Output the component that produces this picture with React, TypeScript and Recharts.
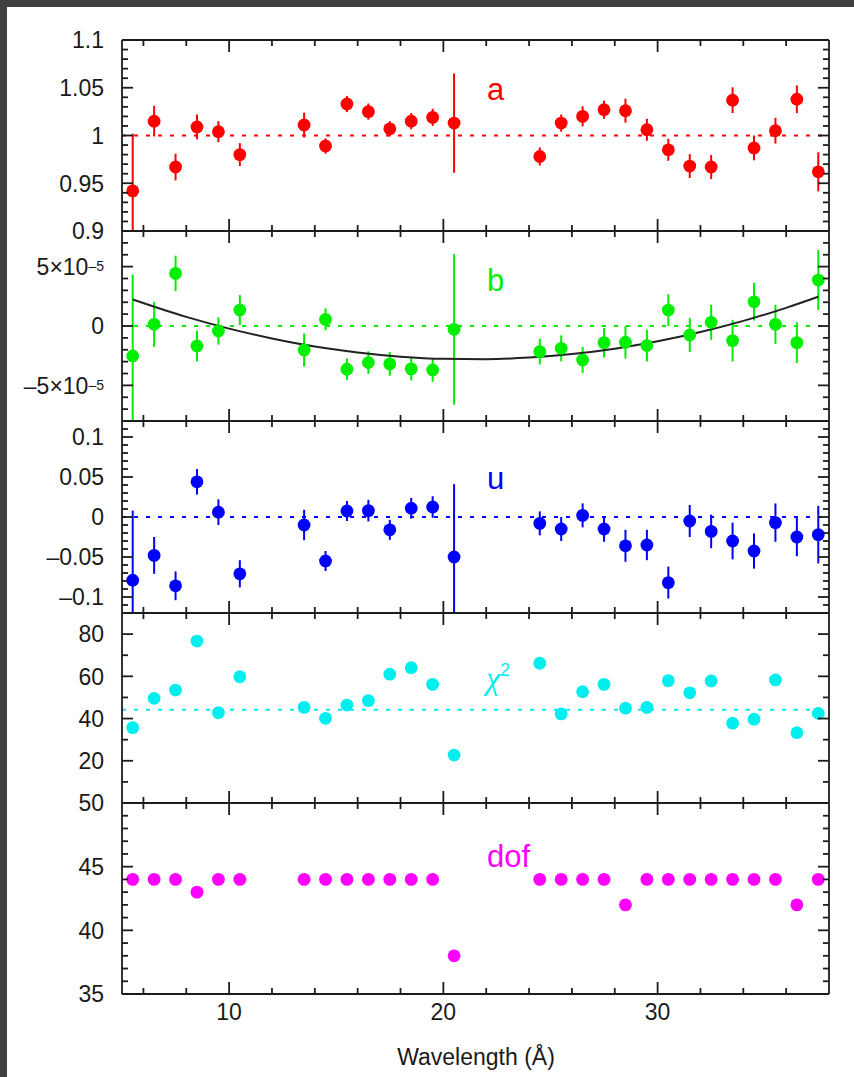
import React from 'react';
import { ComposedChart, Scatter, Line, XAxis, YAxis, ErrorBar, ReferenceLine } from 'recharts';

// ---------- data ----------
const wavelength = [5.5, 6.5, 7.5, 8.5, 9.5, 10.5, 13.5, 14.5, 15.5, 16.5, 17.5, 18.5, 19.5, 20.5, 24.5, 25.5, 26.5, 27.5, 28.5, 29.5, 30.5, 31.5, 32.5, 33.5, 34.5, 35.5, 36.5, 37.5];

// error entries: number = symmetric, [below, above] = bar cut by the panel frame
const aValues = [0.942, 1.015, 0.967, 1.009, 1.004, 0.980, 1.011, 0.989, 1.033, 1.025, 1.007, 1.015, 1.019, 1.013, 0.978, 1.013, 1.020, 1.027, 1.026, 1.006, 0.985, 0.968, 0.967, 1.037, 0.987, 1.005, 1.038, 0.962];
const aErrors: (number | number[])[] = [[0.042, 0.06], 0.016, 0.014, 0.013, 0.011, 0.012, 0.013, 0.008, 0.0085, 0.0085, 0.008, 0.0085, 0.009, 0.052, 0.0095, 0.009, 0.0105, 0.0095, 0.0125, 0.0115, 0.0115, 0.0125, 0.0125, 0.0135, 0.013, 0.0135, 0.0145, 0.0205];

const bValues = [-2.52e-5, 0.14e-5, 4.43e-5, -1.68e-5, -0.42e-5, 1.34e-5, -2.02e-5, 0.56e-5, -3.64e-5, -3.08e-5, -3.19e-5, -3.61e-5, -3.70e-5, -0.28e-5, -2.16e-5, -1.88e-5, -2.86e-5, -1.40e-5, -1.37e-5, -1.65e-5, 1.34e-5, -0.76e-5, 0.31e-5, -1.23e-5, 2.04e-5, 0.14e-5, -1.40e-5, 3.87e-5];
const bErrors: (number | number[])[] = [[5.48e-5, 6.86e-5], 1.9e-5, 1.49e-5, 1.3e-5, 1.15e-5, 1.26e-5, 1.4e-5, 0.92e-5, 0.91e-5, 0.95e-5, 1.0e-5, 0.98e-5, 1.0e-5, 6.34e-5, 1.08e-5, 1.09e-5, 1.09e-5, 1.25e-5, 1.37e-5, 1.33e-5, 1.34e-5, 1.43e-5, 1.47e-5, 1.75e-5, 1.58e-5, 1.65e-5, 1.72e-5, 2.52e-5];

const fitWavelength = [5.5, 8, 10, 12, 14, 16, 18, 20, 22, 24, 26, 28, 30, 32, 34, 36, 37.5];
const fitB = [2.24e-5, 0.77e-5, -0.22e-5, -1.05e-5, -1.73e-5, -2.23e-5, -2.58e-5, -2.76e-5, -2.79e-5, -2.66e-5, -2.36e-5, -1.91e-5, -1.29e-5, -0.51e-5, 0.43e-5, 1.53e-5, 2.46e-5];

const uValues = [-0.079, -0.048, -0.086, 0.044, 0.006, -0.071, -0.010, -0.055, 0.0075, 0.008, -0.016, 0.011, 0.0125, -0.050, -0.008, -0.015, 0.002, -0.015, -0.036, -0.035, -0.082, -0.005, -0.018, -0.030, -0.0425, -0.007, -0.025, -0.022];
const uErrors: (number | number[])[] = [[0.041, 0.087], 0.023, 0.018, 0.016, 0.016, 0.017, 0.019, 0.0125, 0.0125, 0.0135, 0.0125, 0.013, 0.0135, [0.07, 0.091], 0.015, 0.015, 0.015, 0.016, 0.02, 0.019, 0.02, 0.02, 0.021, 0.023, 0.022, 0.024, 0.024, 0.036];

const chiValues = [35.7, 49.6, 53.5, 76.7, 42.8, 59.8, 45.3, 40.1, 46.4, 48.5, 61.0, 64.1, 56.2, 22.7, 66.2, 42.2, 52.7, 56.2, 44.9, 45.3, 57.9, 52.2, 57.8, 37.8, 39.7, 58.3, 33.3, 42.5];
const chiReference = 44.2;

const dofValues = [44, 44, 44, 43, 44, 44, 44, 44, 44, 44, 44, 44, 44, 38, 44, 44, 44, 44, 42, 44, 44, 44, 44, 44, 44, 44, 42, 44];

// ---------- ticks ----------
const xDomain = [5, 38];
const xMajorTicks = [10, 20, 30];
const xAllTicks = [6, 8, 10, 12, 14, 16, 18, 20, 22, 24, 26, 28, 30, 32, 34, 36];

const aMajor = [0.9, 0.95, 1, 1.05, 1.1];
const aMinor = [0.91, 0.92, 0.93, 0.94, 0.96, 0.97, 0.98, 0.99, 1.01, 1.02, 1.03, 1.04, 1.06, 1.07, 1.08, 1.09];
const bMajor = [-5e-5, 0, 5e-5];
const bMinor = [-7e-5, -6e-5, -4e-5, -3e-5, -2e-5, -1e-5, 1e-5, 2e-5, 3e-5, 4e-5, 6e-5, 7e-5];
const uMajor = [-0.1, -0.05, 0, 0.05, 0.1];
const uMinor = [-0.11, -0.09, -0.08, -0.07, -0.06, -0.04, -0.03, -0.02, -0.01, 0.01, 0.02, 0.03, 0.04, 0.06, 0.07, 0.08, 0.09, 0.11];
const chiMajor = [20, 40, 60, 80];
const chiMinor = [10, 30, 50, 70];
const dofMajor = [35, 40, 45, 50];
const dofMinor = [36, 37, 38, 39, 41, 42, 43, 44, 46, 47, 48, 49];

// ---------- styling ----------
const FONT = '"Liberation Sans", Arial, Helvetica, sans-serif';
const SERIF = '"Liberation Serif", "DejaVu Serif", serif';
const AXIS = '#1c1c1c';
const TEXT = '#1a1a1a';
const AXW = 1.8;
const PLOT_LEFT = 122;
const PLOT_RIGHT = 829;
const CHART_W = 854;
const PAD = 24;
const Y_LEFT_W = 60;
const Y_RIGHT_W = 10;
const X_H = 10;

const isMajor = (majors: number[], v: number) => majors.some((m) => Math.abs(m - v) < 1e-12);

const fmtPlain = (v: number): React.ReactNode => (v < 0 ? '\u2013' + String(-v) : String(v));
const fmtB = (v: number): React.ReactNode =>
  v === 0 ? '0' : (
    <>
      {v < 0 ? '\u2013' : ''}5×10
      <tspan dy={-4} fontSize={14}>{'\u2013'}5</tspan>
    </>
  );

const makeLeftTick = (majors: number[], fmt: (v: number) => React.ReactNode) => (p: any) => {
  const v = p.payload.value;
  const major = isMajor(majors, v);
  return (
    <g>
      <line x1={p.x} x2={p.x + (major ? 11 : 6)} y1={p.y} y2={p.y} stroke={AXIS} strokeWidth={AXW} />
      {major && (
        <text x={p.x - 18} y={p.y} dy="0.36em" textAnchor="end" fontSize={23} fontFamily={FONT} fill={TEXT}>
          {fmt(v)}
        </text>
      )}
    </g>
  );
};

const makeRightTick = (majors: number[]) => (p: any) => {
  const major = isMajor(majors, p.payload.value);
  return <line x1={p.x} x2={p.x - (major ? 11 : 6)} y1={p.y} y2={p.y} stroke={AXIS} strokeWidth={AXW} />;
};

const makeBottomTick = (showLabels: boolean) => (p: any) => {
  const v = p.payload.value;
  const major = isMajor(xMajorTicks, v);
  return (
    <g>
      <line x1={p.x} x2={p.x} y1={p.y} y2={p.y - (major ? 12 : 6)} stroke={AXIS} strokeWidth={AXW} />
      {showLabels && major && (
        <text x={p.x} y={p.y + 18} dy="0.36em" textAnchor="middle" fontSize={23} fontFamily={FONT} fill={TEXT}>
          {String(v)}
        </text>
      )}
    </g>
  );
};

const topTick = (p: any) => {
  const major = isMajor(xMajorTicks, p.payload.value);
  return <line x1={p.x} x2={p.x} y1={p.y} y2={p.y + (major ? 12 : 6)} stroke={AXIS} strokeWidth={AXW} />;
};

const dotShape = (color: string) => (p: any) => <circle cx={p.cx} cy={p.cy} r={6.4} fill={color} />;

type PanelProps = {
  top: number;
  bottom: number;
  domain: number[];
  majors: number[];
  minors: number[];
  fmt: (v: number) => React.ReactNode;
  color: string;
  data: { x: number; y: number; e?: number | number[] }[];
  withError: boolean;
  refY?: number;
  fit?: { x: number; y: number }[];
  xLabels?: boolean;
};

function Panel(props: PanelProps) {
  const { top, bottom, domain, majors, minors, fmt, color, data, withError, refY, fit, xLabels } = props;
  const extraBottom = xLabels ? 30 : 0;
  const h = bottom - top + PAD * 2 + extraBottom;
  const yTicks = [...majors, ...minors].sort((a, b) => a - b);
  return (
    <div style={{ position: 'absolute', left: 0, top: top - PAD }}>
      <ComposedChart
        width={CHART_W}
        height={h}
        margin={{
          top: PAD - X_H,
          bottom: PAD - X_H + extraBottom,
          left: PLOT_LEFT - Y_LEFT_W,
          right: CHART_W - PLOT_RIGHT - Y_RIGHT_W,
        }}
      >
        <XAxis
          xAxisId="b"
          dataKey="x"
          type="number"
          domain={xDomain}
          allowDataOverflow
          ticks={xAllTicks}
          interval={0}
          height={X_H}
          tickSize={0}
          tickMargin={0}
          tickLine={false}
          axisLine={{ stroke: AXIS, strokeWidth: AXW }}
          tick={makeBottomTick(!!xLabels)}
        />
        <XAxis
          xAxisId="t"
          orientation="top"
          dataKey="x"
          type="number"
          domain={xDomain}
          allowDataOverflow
          ticks={xAllTicks}
          interval={0}
          height={X_H}
          tickSize={0}
          tickMargin={0}
          tickLine={false}
          axisLine={{ stroke: AXIS, strokeWidth: AXW }}
          tick={topTick}
        />
        <YAxis
          yAxisId="l"
          dataKey="y"
          type="number"
          domain={domain}
          allowDataOverflow
          ticks={yTicks}
          interval={0}
          width={Y_LEFT_W}
          tickSize={0}
          tickMargin={0}
          tickLine={false}
          axisLine={{ stroke: AXIS, strokeWidth: AXW }}
          tick={makeLeftTick(majors, fmt)}
        />
        <YAxis
          yAxisId="r"
          orientation="right"
          dataKey="y"
          type="number"
          domain={domain}
          allowDataOverflow
          ticks={yTicks}
          interval={0}
          width={Y_RIGHT_W}
          tickSize={0}
          tickMargin={0}
          tickLine={false}
          axisLine={{ stroke: AXIS, strokeWidth: AXW }}
          tick={makeRightTick(majors)}
        />
        {refY !== undefined && (
          <ReferenceLine xAxisId="b" yAxisId="l" y={refY} stroke={color} strokeWidth={2} strokeDasharray="4 8" />
        )}
        <Scatter
          xAxisId="b"
          yAxisId="l"
          data={data}
          fill={color}
          shape={dotShape(color)}
          isAnimationActive={false}
        >
          {withError && <ErrorBar dataKey="e" direction="y" width={0} stroke={color} strokeWidth={2} />}
        </Scatter>
        {fit && (
          <Line
            xAxisId="b"
            yAxisId="l"
            data={fit}
            dataKey="y"
            type="monotone"
            stroke="#222222"
            strokeWidth={2}
            dot={false}
            activeDot={false}
            isAnimationActive={false}
          />
        )}
      </ComposedChart>
    </div>
  );
}

export default function App() {
  const aData = wavelength.map((x, i) => ({ x, y: aValues[i], e: aErrors[i] }));
  const bData = wavelength.map((x, i) => ({ x, y: bValues[i], e: bErrors[i] }));
  const uData = wavelength.map((x, i) => ({ x, y: uValues[i], e: uErrors[i] }));
  const chiData = wavelength.map((x, i) => ({ x, y: chiValues[i] }));
  const dofData = wavelength.map((x, i) => ({ x, y: dofValues[i] }));
  const fitData = fitWavelength.map((x, i) => ({ x, y: fitB[i] }));

  return (
    <div style={{ position: 'absolute', left: 0, top: 0, width: 854, height: 1077, background: '#ffffff', overflow: 'hidden' }}>
      <div style={{ position: 'absolute', left: 0, top: 0, width: 854, height: 7, background: '#404040' }} />
      <div style={{ position: 'absolute', left: 0, top: 0, width: 7, height: 1077, background: '#404040' }} />

      <Panel top={40} bottom={231} domain={[0.9, 1.1]} majors={aMajor} minors={aMinor} fmt={fmtPlain} color="#ff0000" data={aData} withError refY={1} />
      <Panel top={231} bottom={421} domain={[-8e-5, 8e-5]} majors={bMajor} minors={bMinor} fmt={fmtB} color="#00ee00" data={bData} withError refY={0} fit={fitData} />
      <Panel top={421} bottom={613} domain={[-0.12, 0.12]} majors={uMajor} minors={uMinor} fmt={fmtPlain} color="#0000ff" data={uData} withError refY={0} />
      <Panel top={613} bottom={803} domain={[0, 90]} majors={chiMajor} minors={chiMinor} fmt={fmtPlain} color="#00eeee" data={chiData} withError={false} refY={chiReference} />
      <Panel top={803} bottom={994} domain={[35, 50]} majors={dofMajor} minors={dofMinor} fmt={fmtPlain} color="#ff00ff" data={dofData} withError={false} xLabels />

      <svg width={854} height={1077} style={{ position: 'absolute', left: 0, top: 0, pointerEvents: 'none' }}>
        <text x={487} y={100} fontSize={31} fontFamily={FONT} fill="#ff0000">a</text>
        <text x={487} y={291} fontSize={31} fontFamily={FONT} fill="#00ee00">b</text>
        <text x={487} y={489} fontSize={31} fontFamily={FONT} fill="#0000ff">u</text>
        <text x={486} y={689} fontSize={32} fontFamily={SERIF} fontStyle="italic" fill="#00eeee">
          χ<tspan dy={-13} fontSize={18} fontFamily={FONT} fontStyle="normal">2</tspan>
        </text>
        <text x={487} y={867} fontSize={31} fontFamily={FONT} fill="#ff00ff">dof</text>
        <text x={476} y={1057} dy="0.36em" textAnchor="middle" fontSize={23} fontFamily={FONT} fill={TEXT}>
          Wavelength (Å)
        </text>
      </svg>
    </div>
  );
}
